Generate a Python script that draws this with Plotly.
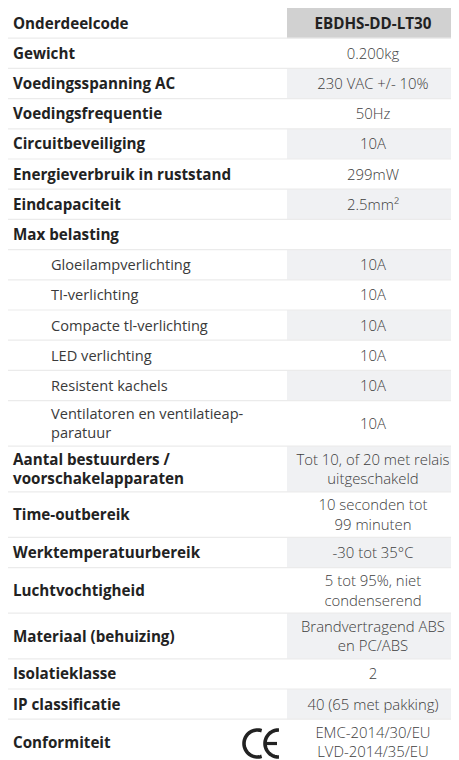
import numpy as np
import plotly.graph_objects as go

# ---------------- data ----------------
header_label = "Onderdeelcode"
header_value = "EBDHS-DD-LT30"

labels = [
    "Gewicht",
    "Voedingsspanning AC",
    "Voedingsfrequentie",
    "Circuitbeveiliging",
    "Energieverbruik in ruststand",
    "Eindcapaciteit",
    "Max belasting",
    "Gloeilampverlichting",
    "TI-verlichting",
    "Compacte tl-verlichting",
    "LED verlichting",
    "Resistent kachels",
    "Ventilatoren en ventilatieap-<br>paratuur",
    "Aantal bestuurders /<br>voorschakelapparaten",
    "Time-outbereik",
    "Werktemperatuurbereik",
    "Luchtvochtigheid",
    "Materiaal (behuizing)",
    "Isolatieklasse",
    "IP classificatie",
    "Conformiteit",
]

values = [
    "0.200kg",
    "230 VAC +/- 10%",
    "50Hz",
    "10A",
    "299mW",
    "2.5mm²",
    "",
    "10A",
    "10A",
    "10A",
    "10A",
    "10A",
    "10A",
    "Tot 10, of 20 met relais<br>uitgeschakeld",
    "10 seconden tot<br>99 minuten",
    "-30 tot 35°C",
    "5 tot 95%, niet<br>condenserend",
    "Brandvertragend ABS<br>en PC/ABS",
    "2",
    "40 (65 met pakking)",
    "EMC-2014/30/EU<br>LVD-2014/35/EU",
]

# 0 = main property (bold), 1 = sub item of "Max belasting" (indented, regular)
levels = [0, 0, 0, 0, 0, 0, 0, 1, 1, 1, 1, 1, 1, 0, 0, 0, 0, 0, 0, 0, 0]

ce_row = "Conformiteit"

# ---------------- layout geometry (page pixels; the page body has an 8px margin) ----------------
W, H = 459, 760
OFF = 8
TOP = 8.0
X_LEFT, X_DIV, X_RIGHT = 5.0, 287.0, 459.0
ROW_H1, ROW_H2 = 30.2, 45.6
X_LABEL, X_SUB = 13.0, 51.0
X_VAL = (X_DIV + X_RIGHT) / 2
DY = 1.8

FONT = "Open Sans"
FS_B = 15.2
FS_S = 14.6
FS_V = 14.9

def nlines(s):
    return s.count("<br>") + 1 if s else 0

row_heights = [ROW_H1] + [
    ROW_H1 if max(nlines(l), nlines(v)) <= 1 else ROW_H2 for l, v in zip(labels, values)
]
edges = TOP + np.concatenate([[0], np.cumsum(row_heights)])
centers = (edges[:-1] + edges[1:]) / 2

XR = X_RIGHT + 12
shapes = []
shapes.append(dict(type="rect", xref="x", yref="y", x0=X_DIV, x1=XR,
                   y0=edges[0], y1=edges[1], fillcolor="#d1d1d1", line_width=0, layer="below"))
for i in range(1, len(row_heights)):
    if i % 2 == 0:
        shapes.append(dict(type="rect", xref="x", yref="y", x0=X_DIV, x1=XR,
                           y0=edges[i], y1=edges[i + 1], fillcolor="#f0f1f3",
                           line_width=0, layer="below"))
for i in range(1, len(edges) - 1):
    shapes.append(dict(type="line", xref="x", yref="y", x0=X_LEFT, x1=XR,
                       y0=edges[i], y1=edges[i], line=dict(color="#ebebeb", width=1.2),
                       layer="below"))

# CE mark (logo) in the conformity row
ci = 1 + labels.index(ce_row)
cy = centers[ci] + 1.5
r = 13.5
def arc(cx, a0, a1):
    t = np.radians(np.linspace(a0, a1, 40))
    xs = cx + r * np.cos(t)
    ys = cy - r * np.sin(t)
    return "M " + " L ".join(f"{x:.2f},{y:.2f}" for x, y in zip(xs, ys))
c_cx, e_cx = 257.5, 278.5
shapes.append(dict(type="path", xref="x", yref="y", path=arc(c_cx, 72, 288),
                   line=dict(color="#222222", width=3.6)))
shapes.append(dict(type="path", xref="x", yref="y", path=arc(e_cx, 88, 272),
                   line=dict(color="#222222", width=3.6)))
shapes.append(dict(type="line", xref="x", yref="y", x0=e_cx - r, x1=e_cx - 1.5,
                   y0=cy, y1=cy, line=dict(color="#222222", width=3.2)))

main_idx = [i for i, lv in enumerate(levels) if lv == 0]
sub_idx = [i for i, lv in enumerate(levels) if lv == 1]

def cell_y(rows):
    return [centers[r] + DY for r in rows]

groups = [
    ([X_LABEL] * (len(main_idx) + 1), cell_y([0] + [i + 1 for i in main_idx]),
     [header_label] + [labels[i] for i in main_idx], "middle right", FS_B, "#222222", 700),
    ([X_SUB] * len(sub_idx), cell_y([i + 1 for i in sub_idx]),
     [labels[i] for i in sub_idx], "middle right", FS_S, "#3a3a3a", 400),
    ([X_VAL], cell_y([0]), [header_value], "middle center", FS_B, "#222222", 700),
    ([X_VAL] * len(values), cell_y(range(1, len(values) + 1)), values,
     "middle center", FS_V, "#3d3d3d", 300),
]

fig = go.Figure()
for xs, ys, ts, pos, fs, col, wt in groups:
    fig.add_trace(go.Scatter(x=xs, y=ys, text=ts, mode="text", textposition=pos,
                             hoverinfo="skip",
                             textfont=dict(family=FONT, size=fs, color=col, weight=wt)))

fig.update_layout(
    width=W, height=H,
    margin=dict(l=0, r=0, t=0, b=0),
    paper_bgcolor="white", plot_bgcolor="white",
    showlegend=False,
    shapes=shapes,
    xaxis=dict(range=[OFF, OFF + W], visible=False, fixedrange=True),
    yaxis=dict(range=[OFF + H, OFF], visible=False, fixedrange=True),
)

fig.write_html("out.html", config={"displayModeBar": False})
